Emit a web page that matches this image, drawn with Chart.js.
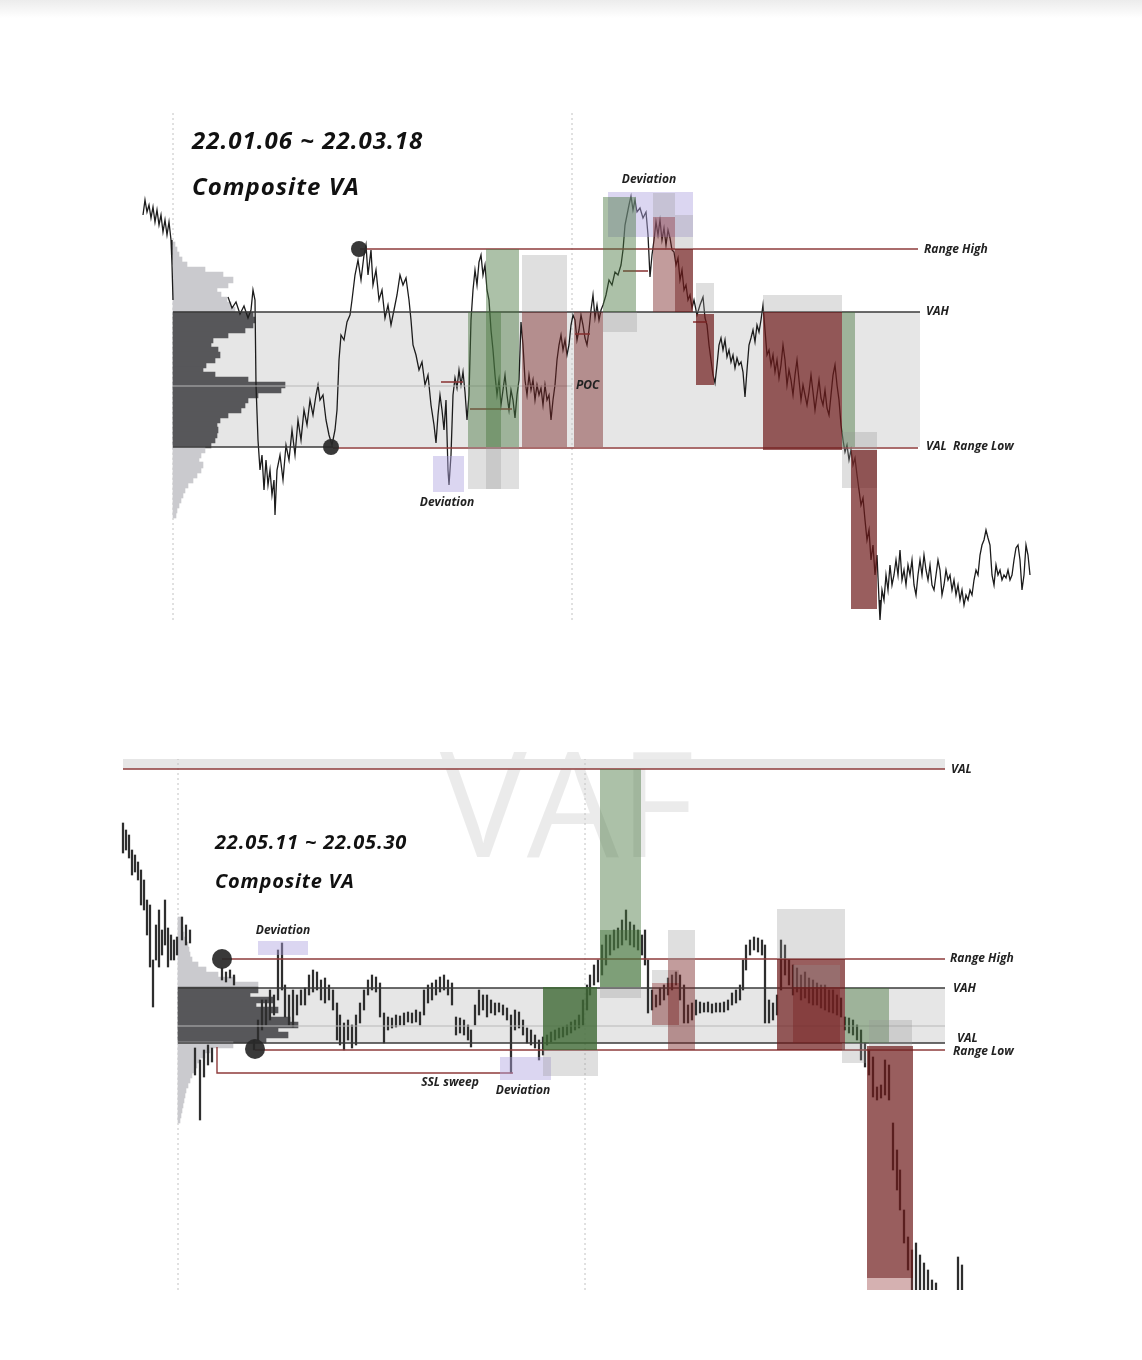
<!DOCTYPE html>
<html>
<head>
<meta charset="utf-8">
<script src="https://cdn.jsdelivr.net/npm/chart.js@4.4.0/dist/chart.umd.min.js"></script>
<style>
  body { margin: 0; background: #fff; }
  #wrap { position: relative; width: 1142px; height: 1360px; overflow: hidden; background: #fff; }
  #fade { position: absolute; left: 0; top: 0; width: 1142px; height: 18px; background: linear-gradient(#ececec, #fff); }
  .pane { position: absolute; left: 0; }
</style>
</head>
<body>
<div id="wrap">
  <div id="fade"></div>
  <canvas id="chartTop" class="pane" width="1142" height="680" style="top:0"></canvas>
  <canvas id="chartBottom" class="pane" width="1142" height="610" style="top:680px"></canvas>
</div>
<script>
// ── Top panel: 22.01.06 ~ 22.03.18 (time index, price units) ──
const topPrice = [
  [143,465],[145,480],[147,468],[149,475],[151,462],[153,473],[155,458],[157,470],[159,455],[161,465],[163,448],[165,460],[167,445],[169,458],[171,440],[172,415],[173,380],[200,null],
  [228,383],[232,372],[236,378],[240,366],[244,374],[248,362],[251,370],[253,390],[255,380],[256,295],[258,240],[260,210],[262,225],[264,190],[266,220],[268,195],[270,210],[272,185],[274,200],[275,165],[277,210],[280,225],[283,200],[286,235],[289,220],[292,250],[295,225],[298,260],[301,240],[304,270],[307,255],[310,280],[313,265],[316,285],[318,295],[320,280],[323,285],[326,260],[329,245],[332,235],[335,250],[337,270],[339,320],[341,345],[344,340],[347,358],[350,365],[352,380],[355,405],[358,420],[361,400],[364,425],[366,435],[368,405],[371,430],[373,395],[376,410],[379,380],[382,390],[385,362],[388,375],[391,355],[394,370],[397,385],[400,405],[403,395],[406,402],[409,380],[411,360],[413,335],[416,325],[419,310],[422,318],[425,295],[428,305],[431,275],[434,255],[436,237],[438,265],[440,285],[442,270],[444,250],[446,280],[448,210],[449,195],[451,225],[453,285],[455,302],[457,292],[459,310],[461,295],[463,308],[465,288],[467,260],[469,285],[471,360],[473,390],[475,410],[477,395],[479,418],[481,425],[483,405],[485,415],[487,390],[489,380],[491,350],[493,330],[495,305],[497,285],[499,300],[501,275],[503,290],[505,305],[507,285],[509,270],[511,290],[513,280],[515,262],[517,285],[519,300],[521,358],[523,335],[525,300],[527,285],[529,305],[531,290],[533,300],[535,280],[537,295],[539,285],[541,292],[543,275],[545,295],[547,280],[549,285],[551,260],[553,280],[555,295],[557,320],[559,335],[561,345],[563,330],[565,340],[567,325],[569,335],[571,355],[573,365],[575,360],[577,340],[579,350],[581,365],[583,355],[585,342],[587,335],[589,350],[591,370],[593,385],[595,362],[597,375],[599,360],[601,370],[603,375],[606,385],[609,400],[612,395],[615,408],[618,405],[621,415],[623,430],[625,455],[627,465],[629,475],[631,484],[633,470],[635,480],[637,468],[640,472],[643,462],[646,468],[648,445],[650,403],[652,425],[654,440],[656,458],[658,445],[660,460],[662,440],[664,452],[666,435],[668,450],[670,442],[672,430],[674,428],[676,415],[678,422],[680,400],[682,410],[684,390],[686,395],[688,380],[690,385],[692,372],[694,380],[697,365],[700,375],[703,383],[705,362],[707,355],[709,335],[711,320],[713,305],[715,297],[717,315],[719,335],[721,342],[723,330],[725,340],[727,323],[729,330],[731,318],[733,325],[735,312],[737,322],[739,315],[741,318],[743,308],[745,283],[747,310],[749,335],[751,342],[753,350],[755,338],[757,355],[759,348],[761,360],[763,375],[765,350],[767,325],[769,330],[771,315],[773,325],[775,308],[777,320],[779,302],[781,315],[783,335],[785,320],[787,295],[789,310],[791,300],[793,285],[795,305],[797,320],[799,300],[801,280],[803,295],[805,285],[807,275],[809,288],[811,305],[813,288],[815,270],[817,285],[819,300],[821,282],[823,275],[825,290],[827,272],[829,265],[831,285],[833,305],[835,315],[837,295],[839,280],[841,255],[843,240],[845,228],[847,235],[849,220],[851,230],[853,215],[855,222],[857,205],[859,190],[861,175],[863,182],[865,160],[867,140],[869,150],[871,120],[873,135],[875,105],[877,125],[879,80],[880,60],[882,90],[884,80],[886,105],[888,90],[890,115],[892,95],[894,105],[896,120],[898,105],[900,130],[902,100],[904,110],[906,95],[908,115],[910,105],[912,120],[914,95],[916,85],[918,105],[920,120],[922,105],[924,125],[926,110],[928,100],[930,115],[932,95],[934,90],[936,105],[938,120],[940,110],[942,85],[944,95],[946,110],[948,100],[950,105],[952,90],[954,100],[956,85],[958,95],[960,80],[962,90],[964,75],[966,85],[968,80],[970,90],[972,85],[974,100],[976,110],[978,105],[980,125],[982,135],[984,140],[986,150],[988,142],[990,135],[992,105],[994,95],[996,115],[998,105],[1000,110],[1002,100],[1004,105],[1006,102],[1008,110],[1010,100],[1012,105],[1014,120],[1016,132],[1018,135],[1020,120],[1022,90],[1024,105],[1026,135],[1028,125],[1030,105]
];
const topProfileStart = 173;
const topProfileLevels = [435,430,425,420,415,410,405,400,395,390,385,380,375,370,365,360,355,350,345,340,335,330,325,320,315,310,305,300,295,290,285,280,275,270,265,260,255,250,245,240,235,230,225,220,215,210,205,200,195,190,185,180,175,170,165];
const topProfileVolume = [2,4,6,9,14,32,50,60,55,44,48,54,58,62,80,82,80,72,55,40,38,45,47,42,33,30,42,75,112,108,85,75,72,68,55,47,44,45,44,42,38,32,28,26,30,28,24,20,15,12,10,8,6,4,3];
const topVA = { high: 368, poc: 294, low: 233 };
// [from, to, price, kind]
const topLevels = [
  [360, 918, 431, 'range'], [173, 920, 368, 'va'], [173, 572, 294, 'poc'],
  [173, 333, 233, 'va'], [333, 918, 232, 'range'],
  [441, 463, 298, 'range'], [470, 512, 271, 'range'], [575, 590, 346, 'range'],
  [623, 648, 409, 'range'], [693, 707, 358, 'range']
];
const topGuides = [[173, 60, 570], [572, 60, 570]];
const topSwings = [[359, 431], [331, 233]];
// [from, to, priceLow, priceHigh, kind]
const topZones = [[173, 920, 233, 368, 'zone']];
const topBoxes = [
  [433, 464, 188, 224, 'dev'],
  [468, 501, 233, 368, 'green'], [486, 519, 233, 431, 'green'],
  [468, 501, 191, 233, 'grey'], [486, 519, 191, 233, 'grey'],
  [522, 567, 368, 425, 'grey'], [522, 567, 233, 368, 'red'],
  [574, 603, 233, 368, 'red'],
  [608, 693, 443, 488, 'dev'], [603, 636, 368, 483, 'green'], [603, 637, 348, 368, 'grey'],
  [653, 675, 463, 487, 'grey'], [653, 675, 368, 463, 'red'],
  [675, 693, 431, 465, 'grey'], [675, 693, 368, 431, 'redDeep'],
  [696, 714, 368, 397, 'grey'], [696, 714, 295, 366, 'redDeep'],
  [763, 842, 368, 385, 'grey'], [763, 842, 230, 368, 'redDeep'],
  [842, 855, 233, 368, 'green'],
  [842, 877, 192, 248, 'grey'], [851, 877, 71, 230, 'redDeep']
];
// [text, time, price, style]
const topLabels = [
  ['22.01.06 ~ 22.03.18', 192, 538, 'title'], ['Composite VA', 192, 492, 'title'],
  ['Deviation', 649, 500, 'noteC'], ['Deviation', 447, 177, 'noteC'], ['POC', 576, 294, 'note'],
  ['Range High', 924, 430, 'note'], ['VAH', 926, 368, 'note'], ['VAL  Range Low', 926, 233, 'note']
];

// ── Bottom panel: 22.05.11 ~ 22.05.30 ──
// [time, low, high]
const bottomCandles = [
  [123,437,467],[126,440,460],[129,432,455],[132,415,440],[135,418,435],[138,410,428],[141,385,420],[144,380,410],[147,355,390],[150,323,385],[153,283,330],[156,330,365],[159,323,380],[162,335,360],[165,345,390],[168,323,362],[171,330,355],[174,330,350],[177,335,353],
  [182,350,373],[186,345,365],[190,347,360],[195,215,242],[200,170,230],[204,213,240],[208,225,245],[212,228,242],
  [222,310,322],[226,308,318],[230,312,320],[234,305,315],
  [254,240,250],[258,250,270],[262,260,290],[266,265,290],[270,270,300],[274,275,295],[278,290,340],[282,300,347],[285,273,305],[289,265,295],[293,263,300],[297,275,295],[301,285,300],[305,285,302],[309,295,315],[313,298,320],[317,300,318],[321,290,310],[325,287,312],[329,290,305],[333,280,300],[337,250,287],[340,245,275],[344,240,267],[348,250,270],[352,242,265],[356,245,275],[360,267,287],[364,280,300],[368,295,310],[372,300,315],[376,298,313],[380,273,307],[384,247,277],[388,260,273],[392,262,272],[396,263,275],[400,265,274],[404,265,277],[408,268,278],[412,267,277],[416,268,280],[420,265,278],[424,275,300],[428,287,305],[432,290,307],[436,295,310],[440,298,313],[444,300,315],[448,295,310],[452,285,307],[456,255,273],[460,257,272],[464,255,270],[468,250,265],[471,243,260],[475,265,285],[479,275,300],[483,280,295],[487,273,295],[491,277,290],[495,275,287],[499,278,287],[503,275,285],[507,270,282],[511,217,275],[515,260,280],[519,262,278],[523,255,270],[527,247,262],[531,245,260],[535,242,255],[539,230,250],[543,235,253],[547,245,255],[551,248,258],[555,250,260],[559,252,262],[563,253,263],[567,255,265],[571,257,268],[575,260,270],[579,262,275],[583,265,290],[587,280,305],[590,295,315],[594,305,325],[598,308,330],
  [602,315,345],[606,325,355],[610,335,355],[614,340,360],[618,342,362],[622,345,370],[626,350,380],[630,345,368],[634,343,365],[638,340,360],[642,335,355],[645,325,360],[648,277,330],[652,280,300],[656,283,295],[660,285,302],[664,290,305],[668,295,312],[672,300,315],[676,305,318],[680,290,315],[684,267,305],[688,267,285],[692,270,287],[696,275,290],[700,277,288],[704,278,287],[708,278,288],[712,277,286],[716,278,287],[720,278,287],[724,278,288],[728,280,290],[732,285,297],[736,287,300],[740,290,305],[743,300,330],[746,320,345],[750,335,350],[754,340,353],[758,338,352],[762,335,350],[765,267,345],[769,267,290],[773,270,287],[777,275,295],[781,300,350],[785,315,345],[789,305,330],[793,295,325],[797,298,322],[801,290,315],[805,292,318],[809,287,312],[813,285,310],[817,285,307],[821,282,305],[825,280,305],[829,278,300],[833,277,300],[837,275,295],[841,273,292],
  [845,260,273],[849,257,272],[853,255,270],[857,250,265],[861,230,260],[865,223,247],[869,215,240],[873,193,233],[877,190,203],[881,192,205],[885,195,230],[889,190,225],[893,120,167],[897,100,140],[900,80,120],[904,47,80],[908,20,53],[912,0,40],[916,-10,47],[920,-10,35],[924,-10,27],[928,-10,20],[932,-10,10],[936,-10,7],[958,-10,33],[962,-10,25]
];
const bottomProfileStart = 178;
const bottomProfileLevels = [370,365,360,355,350,345,340,335,330,325,320,315,310,305,300,295,290,285,280,275,270,265,260,255,250,245,240,235,230,225,220,215,210,205,200,195,190,185,180,175,170];
const bottomProfileVolume = [3,4,5,6,8,10,11,12,14,20,28,40,57,80,80,72,95,78,100,92,112,120,100,110,88,55,32,27,22,19,16,14,12,10,8,7,6,5,4,3,2];
const bottomVA = { high: 302, poc: 264, low: 247 };
const bottomLevels = [
  [123, 945, 521, 'range'], [222, 945, 331, 'range'], [178, 945, 302, 'va'],
  [178, 945, 264, 'poc'], [178, 945, 247, 'va'], [255, 945, 240, 'range']
];
const bottomSweep = [[217, 243], [217, 217], [513, 217]];
const bottomGuides = [[178, 0, 531], [585, 0, 531]];
const bottomSwings = [[222, 331], [255, 241]];
const bottomZones = [[123, 945, 521, 531, 'zone'], [178, 945, 247, 302, 'zone']];
const bottomBoxes = [
  [258, 308, 335, 349, 'dev'], [500, 551, 210, 233, 'dev'],
  [543, 597, 240, 303, 'greenDeep'], [543, 598, 214, 240, 'grey'],
  [600, 641, 303, 521, 'green'], [600, 641, 303, 360, 'green'], [600, 641, 292, 303, 'grey'],
  [652, 679, 307, 320, 'grey'], [652, 679, 265, 307, 'red'],
  [668, 695, 330, 360, 'grey'], [668, 695, 240, 330, 'red'],
  [777, 845, 331, 381, 'grey'], [777, 845, 240, 331, 'redDeep'],
  [793, 840, 303, 325, 'grey'], [793, 840, 247, 303, 'red'],
  [845, 889, 247, 302, 'green'], [869, 912, 240, 270, 'grey'], [842, 866, 227, 247, 'grey'],
  [867, 913, 12, 244, 'redDeep'], [867, 913, 0, 12, 'pink']
];
const bottomLabels = [
  ['22.05.11 ~ 22.05.30', 215, 447, 'titleS'], ['Composite VA', 215, 408, 'titleS'],
  ['VAL', 951, 520, 'note'], ['Range High', 950, 331, 'note'], ['VAH', 953, 301, 'note'],
  ['VAL', 957, 251, 'note'], ['Range Low', 953, 238, 'note'],
  ['Deviation', 283, 359, 'noteC'], ['SSL sweep', 450, 207, 'noteC'], ['Deviation', 523, 199, 'noteC']
];
const bottomMarks = [['VAF', 567, 475, 'mark']];

// ── Styles ──
const boxColors = {
  zone: '#e6e6e6',
  green: 'rgba(72,118,62,0.45)',
  greenDeep: 'rgba(62,105,52,0.8)',
  red: 'rgba(120,35,35,0.45)',
  redDeep: 'rgba(110,25,25,0.7)',
  grey: 'rgba(150,150,150,0.3)',
  dev: 'rgba(175,165,225,0.45)',
  pink: 'rgba(150,60,60,0.4)'
};
const lineStyles = {
  range: { color: '#8e3b3b', width: 1.6 },
  va: { color: '#3a3a3a', width: 1.6 },
  poc: { color: '#b8b8b8', width: 1.2 }
};
const textStyles = {
  title: { font: 'italic 700 24px "Open Sans"', align: 'left', spacing: '1px', color: '#111' },
  titleS: { font: 'italic 700 20px "Open Sans"', align: 'left', spacing: '0.8px', color: '#111' },
  note: { font: 'italic 700 12px "Open Sans"', align: 'left', spacing: '0px', color: '#222' },
  noteC: { font: 'italic 700 12px "Open Sans"', align: 'center', spacing: '0px', color: '#222' },
  mark: { font: '400 146px "Open Sans"', align: 'center', spacing: '0px', color: 'rgba(0,0,0,0.08)' }
};

function paintBox(ctx, x, y, [t1, t2, p1, p2, kind]) {
  const left = x.getPixelForValue(t1), right = x.getPixelForValue(t2);
  const top = y.getPixelForValue(p2), bottom = y.getPixelForValue(p1);
  ctx.fillStyle = boxColors[kind];
  ctx.fillRect(left, top, right - left, bottom - top);
}

function paintText(ctx, x, y, [text, t, p, kind]) {
  const st = textStyles[kind];
  ctx.font = st.font;
  ctx.fillStyle = st.color;
  ctx.textAlign = st.align;
  ctx.textBaseline = 'middle';
  if ('letterSpacing' in ctx) ctx.letterSpacing = st.spacing;
  ctx.fillText(text, x.getPixelForValue(t), y.getPixelForValue(p));
  if ('letterSpacing' in ctx) ctx.letterSpacing = '0px';
}

function overlay(p) {
  return {
    id: 'overlay',
    beforeDatasetsDraw(chart) {
      const { ctx, scales: { x, y } } = chart;
      ctx.save();
      (p.marks || []).forEach(m => paintText(ctx, x, y, m));
      p.zones.forEach(b => paintBox(ctx, x, y, b));
      ctx.restore();
    },
    afterDatasetsDraw(chart) {
      const { ctx, scales: { x, y } } = chart;
      ctx.save();
      p.boxes.forEach(b => paintBox(ctx, x, y, b));
      ctx.restore();
    },
    afterDraw(chart) {
      const { ctx, scales: { x, y } } = chart;
      ctx.save();
      p.labels.forEach(l => paintText(ctx, x, y, l));
      ctx.restore();
    }
  };
}

function levelSets(levels) {
  return levels.map(([t1, t2, price, kind]) => ({
    type: 'line', data: [{ x: t1, y: price }, { x: t2, y: price }],
    borderColor: lineStyles[kind].color, borderWidth: lineStyles[kind].width,
    pointRadius: 0, order: 2
  }));
}

function guideSets(guides) {
  return guides.map(([t, p1, p2]) => ({
    type: 'line', data: [{ x: t, y: p1 }, { x: t, y: p2 }],
    borderColor: '#c2c2c2', borderWidth: 1, borderDash: [2, 3], pointRadius: 0, order: 6
  }));
}

function profileSet(levels, volume, start, va) {
  return {
    type: 'bar', indexAxis: 'y', grouped: false, barThickness: 6, borderWidth: 0, order: 5,
    data: levels.map((p, i) => ({ y: p, x: [start, start + volume[i]] })),
    backgroundColor: levels.map(p => (p > va.low && p < va.high) ? '#57575a' : '#cacace')
  };
}

function swingSet(points, radius) {
  return {
    type: 'line', showLine: false, order: 1,
    data: points.map(([t, p]) => ({ x: t, y: p })),
    pointRadius: radius, pointBackgroundColor: 'rgba(40,40,40,0.92)', pointBorderWidth: 0
  };
}

function baseOptions(height) {
  return {
    responsive: false, animation: false, events: [],
    layout: { padding: 0, autoPadding: false },
    plugins: { legend: { display: false }, tooltip: { enabled: false } },
    scales: {
      x: { type: 'linear', min: 0, max: 1142, offset: false, display: false },
      y: { type: 'linear', min: 0, max: height, offset: false, display: false }
    }
  };
}

// ── Top chart ──
new Chart(document.getElementById('chartTop'), {
  type: 'line',
  data: {
    datasets: [
      { type: 'line', data: topPrice.map(([t, p]) => ({ x: t, y: p })), borderColor: '#1c1c1c', borderWidth: 1.3, pointRadius: 0, tension: 0, spanGaps: false, order: 3 },
      profileSet(topProfileLevels, topProfileVolume, topProfileStart, topVA),
      ...levelSets(topLevels),
      ...guideSets(topGuides),
      swingSet(topSwings, 8)
    ]
  },
  options: baseOptions(680),
  plugins: [overlay({ zones: topZones, boxes: topBoxes, labels: topLabels })]
});

// ── Bottom chart ──
new Chart(document.getElementById('chartBottom'), {
  type: 'line',
  data: {
    datasets: [
      { type: 'bar', grouped: false, barThickness: 1.6, borderWidth: 0, order: 3, backgroundColor: '#2e2e2e',
        data: bottomCandles.map(([t, lo, hi]) => ({ x: t, y: [lo, hi] })) },
      profileSet(bottomProfileLevels, bottomProfileVolume, bottomProfileStart, bottomVA),
      ...levelSets(bottomLevels),
      { type: 'line', data: bottomSweep.map(([t, p]) => ({ x: t, y: p })), borderColor: lineStyles.range.color, borderWidth: 1.4, pointRadius: 0, order: 2 },
      ...guideSets(bottomGuides),
      swingSet(bottomSwings, 10)
    ]
  },
  options: baseOptions(610),
  plugins: [overlay({ zones: bottomZones, boxes: bottomBoxes, labels: bottomLabels, marks: bottomMarks })]
});
</script>
</body>
</html>
